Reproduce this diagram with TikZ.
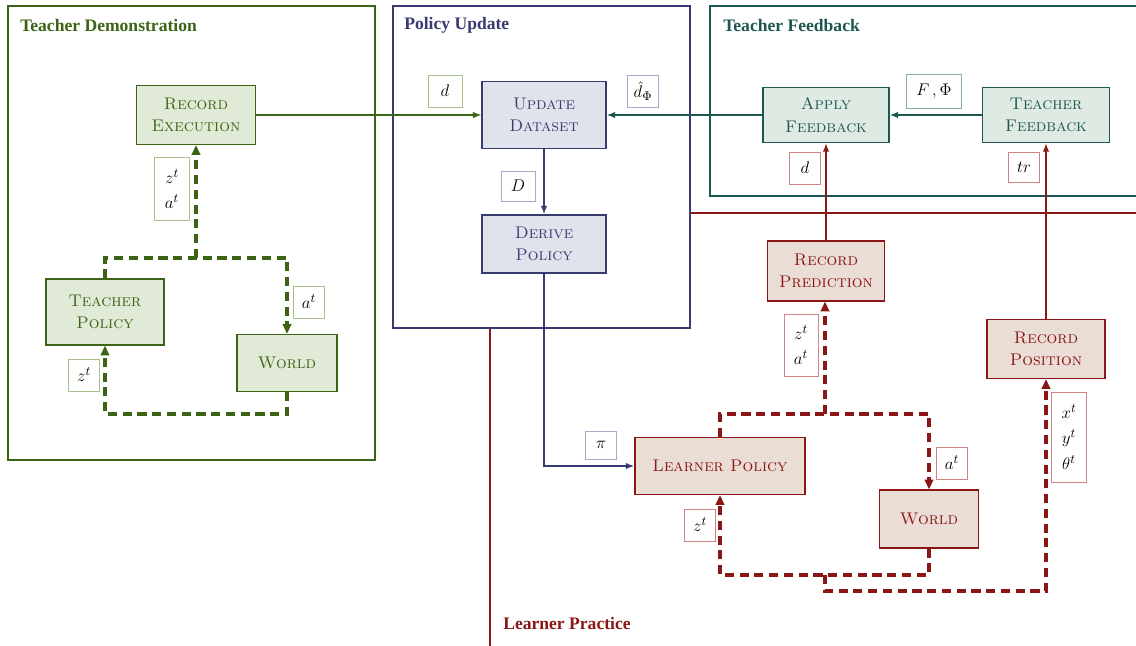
\documentclass[tikz,border=0pt]{standalone}
\usepackage{amsmath}
\usepackage{fontspec}
\newfontfamily\headfont{Liberation Serif}
\usetikzlibrary{arrows.meta}

\definecolor{demogreen}{HTML}{3C6414}
\definecolor{demofill}{HTML}{E1EAD6}
\definecolor{demolight}{HTML}{A8C08A}
\definecolor{updnavy}{HTML}{3A3A72}
\definecolor{updfill}{HTML}{DFE4EC}
\definecolor{updlight}{HTML}{A9A9CB}
\definecolor{fbteal}{HTML}{1E5752}
\definecolor{fbfill}{HTML}{DEEAE2}
\definecolor{fblight}{HTML}{88AEAC}
\definecolor{lrnred}{HTML}{8A1616}
\definecolor{lrnfill}{HTML}{EADDD5}
\definecolor{lrnlight}{HTML}{D08585}

\tikzset{
  region/.style={draw=#1, line width=1.4pt},
  regiontitle/.style={anchor=west, inner sep=0pt, text=#1, font=\headfont\fontsize{12.5}{14}\selectfont\bfseries},
  blockbase/.style={line width=0.8pt, align=center, inner sep=2pt, font=\fontsize{12}{16}\selectfont\scshape},
  demobox/.style={blockbase, draw=demogreen, fill=demofill, text=demogreen},
  updbox/.style={blockbase, draw=updnavy, fill=updfill, text=updnavy},
  fbbox/.style={blockbase, draw=fbteal, fill=fbfill, text=fbteal},
  lrnbox/.style={blockbase, draw=lrnred, fill=lrnfill, text=lrnred},
  lbl/.style={draw=#1, fill=white, line width=0.5pt, minimum width=0.78cm, minimum height=0.8cm, inner sep=2pt, align=center, font=\fontsize{12.5}{18}\selectfont},
  loopline/.style={draw=#1, dash pattern=on 6.5pt off 4pt, line width=2.2pt, -{Triangle[length=7pt,width=6pt]}},
  flowline/.style={draw=#1, line width=1pt, -{Latex[length=6pt,width=4.5pt]}},
}

\begin{document}
\begin{tikzpicture}[x=0.025cm, y=-0.025cm]
  \useasboundingbox (0,0) rectangle (1136,645);

  % stages
  \draw[region=demogreen] (8,6) rectangle (375,460);
  \draw[region=lrnred] (490,213) rectangle (1160,670);
  \draw[region=updnavy, fill=white] (393,6) rectangle (690,328);
  \draw[region=fbteal, fill=white] (710,6) rectangle (1160,196);
  \node[regiontitle=demogreen] (tdemo) at (20,25) {Teacher Demonstration};
  \node[regiontitle=updnavy] (tupd) at (404,25) {Policy Update};
  \node[regiontitle=fbteal] (tfb) at (723,25) {Teacher Feedback};
  \node[regiontitle=lrnred] (tlrn) at (503,623) {Learner Practice};

  % teacher demonstration
  \node[demobox, minimum width=2.975cm, minimum height=1.475cm] (recexec) at (196,115) {Record\\Execution};
  \node[demobox, minimum width=2.95cm, minimum height=1.65cm] (tpol) at (105,312) {Teacher\\Policy};
  \node[demobox, minimum width=2.5cm, minimum height=1.425cm] (gworld) at (287,363) {World};
  \coordinate (gtop) at (196,258);
  \coordinate (gbl) at (105,414);
  \draw[loopline=demogreen] (tpol.north) |- (gtop) -| (gworld.north);
  \draw[loopline=demogreen] (gtop) -- (gtop |- recexec.south);
  \draw[loopline=demogreen] (gworld.south) |- (gbl) -- (tpol.south);
  \node[lbl=demolight, minimum width=0.875cm, minimum height=1.575cm] (gza) at (172,189) {$z^t$\\$a^t$};
  \node[lbl=demolight] (ga) at (309,302) {$a^t$};
  \node[lbl=demolight] (gz) at (84,375) {$z^t$};

  % policy update
  \node[updbox, minimum width=3.1cm, minimum height=1.675cm] (upd) at (544,115) {Update\\Dataset};
  \node[updbox, minimum width=3.1cm, minimum height=1.45cm] (derive) at (544,244) {Derive\\Policy};
  \node[lbl=demolight, minimum width=0.85cm] (ld) at (445,91) {$d$};
  \node[lbl=updlight] (ldhat) at (643,91) {$\hat{d}_{\Phi}$};
  \node[lbl=updlight, minimum width=0.85cm, minimum height=0.75cm] (lD) at (518,186) {$D$};

  % teacher feedback
  \node[fbbox, minimum width=3.15cm, minimum height=1.375cm] (applyfb) at (826,115) {Apply\\Feedback};
  \node[fbbox, minimum width=3.175cm, minimum height=1.375cm] (teachfb) at (1046,115) {Teacher\\Feedback};
  \node[lbl=fblight, minimum width=1.375cm, minimum height=0.85cm] (lFPhi) at (934,91) {$F\,,\Phi$};

  % learner practice
  \node[lrnbox, minimum width=2.925cm, minimum height=1.5cm] (recpred) at (826,271) {Record\\Prediction};
  \node[lrnbox, minimum width=2.95cm, minimum height=1.475cm] (recpos) at (1046,349) {Record\\Position};
  \node[lrnbox, minimum width=4.25cm, minimum height=1.425cm] (lpol) at (720,466) {Learner Policy};
  \node[lrnbox, minimum width=2.475cm, minimum height=1.45cm] (rworld) at (929,519) {World};
  \coordinate (rtop) at (825,414);
  \coordinate (rbl) at (720,575);
  \coordinate (rbr) at (825,575);
  \draw[loopline=lrnred] (lpol.north) |- (rtop) -| (rworld.north);
  \draw[loopline=lrnred] (rtop) -- (rtop |- recpred.south);
  \draw[loopline=lrnred] (rworld.south) |- (rbl) -- (lpol.south);
  \draw[loopline=lrnred] (rbr) -- ++(0,16) -| (recpos.south);
  \node[lbl=lrnlight] (rd) at (805,168) {$d$};
  \node[lbl=lrnlight, minimum height=0.75cm] (rtr) at (1024,167) {$tr$};
  \node[lbl=lrnlight, minimum width=0.85cm, minimum height=1.55cm] (rza) at (801,345) {$z^t$\\$a^t$};
  \node[lbl=updlight, minimum height=0.7cm] (lpi) at (601,445) {$\pi$};
  \node[lbl=lrnlight] (ra) at (952,463) {$a^t$};
  \node[lbl=lrnlight] (rz) at (700,525) {$z^t$};
  \node[lbl=lrnlight, minimum width=0.875cm, minimum height=2.25cm] (rxyt) at (1069,437) {$x^t$\\$y^t$\\$\theta^t$};

  % connectors
  \draw[flowline=demogreen, line width=0.8pt] (recexec.east) -- (upd.west);
  \draw[flowline=fbteal] (applyfb.west) -- (upd.east);
  \draw[flowline=fbteal] (teachfb.west) -- (applyfb.east);
  \draw[flowline=updnavy, line width=1.2pt] (upd.south) -- (derive.north);
  \draw[flowline=updnavy, line width=1.2pt] (derive.south) |- (lpol.west);
  \draw[flowline=lrnred, line width=1.2pt] (recpred.north) -- (applyfb.south);
  \draw[flowline=lrnred, line width=1.2pt] (recpos.north) -- (teachfb.south);
\end{tikzpicture}
\end{document}
